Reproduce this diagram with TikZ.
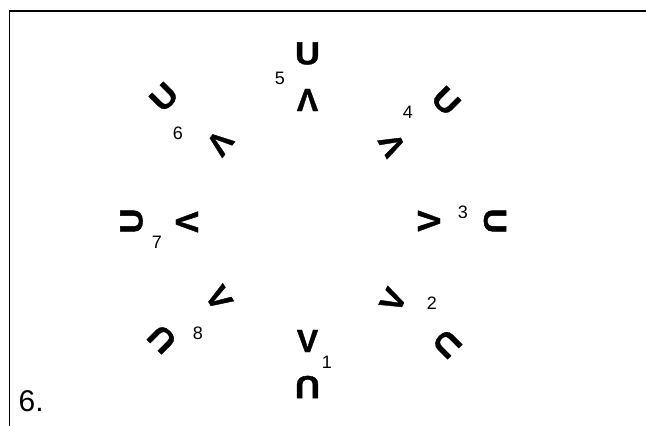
\documentclass[tikz,border=0pt]{standalone}
\usepackage{fontspec}
\setmainfont{Liberation Sans}
\newfontfamily\glyphfont{Liberation Sans Bold}[FakeBold=1.2]
\begin{document}
\begin{tikzpicture}[x=1pt,y=-1pt,
  vg/.style={inner sep=0pt, font=\glyphfont\fontsize{32}{32}\selectfont, rotate=#1},
  ug/.style={inner sep=0pt, font=\glyphfont\fontsize{32}{32}\selectfont, rotate=#1, xscale=1.08},
  num/.style={inner sep=0pt, font=\fontsize{18}{18}\selectfont},
  frame/.style={line width=1.8pt}]
\useasboundingbox (0,0) rectangle (646,426);
\draw[frame] (9.5,426) -- (9.5,11) -- (646,11);
% pair 1
\node[vg=0]    (i1) at (307.5,341) {V};
\node[ug=180]  (o1) at (307.5,387) {U};
\node[num]     (n1) at (327,362) {1};
% pair 2
\node[vg=64]   (i2) at (393,300) {V};
\node[ug=-135] (o2) at (447,344) {U};
\node[num]     (n2) at (432,303) {2};
% pair 3
\node[vg=90]   (i3) at (429,221) {V};
\node[ug=-90]  (o3) at (495,221) {U};
\node[num]     (n3) at (463,212) {3};
% pair 4
\node[vg=117]  (i4) at (392,145) {V};
\node[ug=-45]  (o4) at (446,101) {U};
\node[num]     (n4) at (408,112) {4};
% pair 5
\node[vg=180]  (i5) at (307.5,100) {V};
\node[ug=0]    (o5) at (307.5,53.5) {U};
\node[num]     (n5) at (280,78) {5};
% pair 6
\node[vg=-128] (i6) at (220,143) {V};
\node[ug=45]   (o6) at (164,97) {U};
\node[num]     (n6) at (178,133) {6};
% pair 7
\node[vg=-90]  (i7) at (187,222) {V};
\node[ug=90]   (o7) at (131.5,221) {U};
\node[num]     (n7) at (157,242) {7};
% pair 8
\node[vg=-58]  (i8) at (219,298) {V};
\node[ug=135]  (o8) at (162,339) {U};
\node[num]     (n8) at (198,333) {8};
% label
\node[anchor=base west, inner sep=0pt, font=\fontsize{30}{30}\selectfont] (lab) at (18.5,411) {6.};
\end{tikzpicture}
\end{document}
